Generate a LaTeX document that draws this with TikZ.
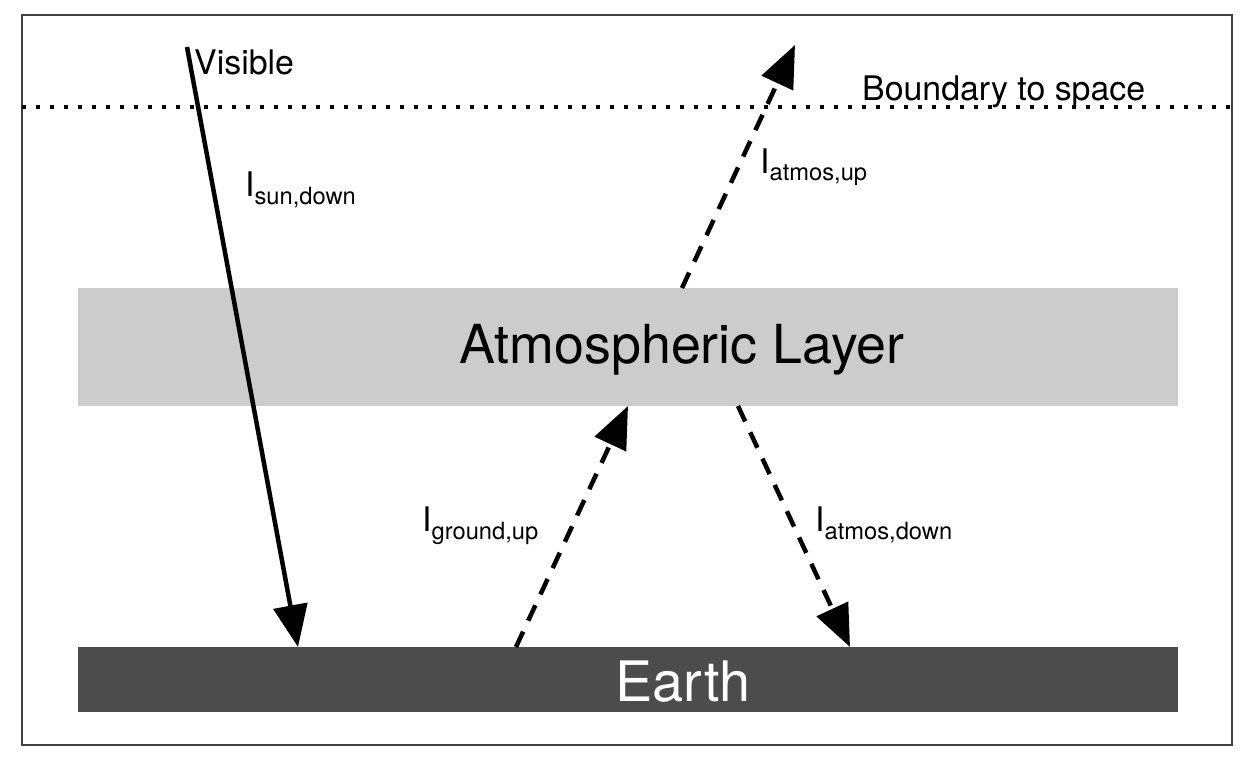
\documentclass[tikz,border=0pt]{standalone}
\usepackage{fontspec}
\setmainfont{TeX Gyre Heros}
\usetikzlibrary{arrows.meta}
\begin{document}
\begin{tikzpicture}[x=1bp,y=-1bp,
  ray/.style={line width=4.5bp,-{Triangle[length=42bp,width=34bp]}},
  dray/.style={ray,dash pattern=on 17bp off 12bp},
  lbl/.style={font=\fontsize{34}{38}\selectfont,inner sep=0pt}]
\useasboundingbox (0,0) rectangle (1248,768);
\fill[white] (0,0) rectangle (1248,768);
\draw[line width=1.2bp,black!75] (22,15) rectangle (1232,745);
\fill[black!20] (78,288) rectangle (1178,406);
\node[inner sep=0pt,font=\fontsize{54}{58}\selectfont] (atm) at (682,350) {Atmospheric Layer};
\fill[black!70] (78,647) rectangle (1178,712);
\node[inner sep=0pt,text=white,font=\fontsize{56}{60}\selectfont] (earth) at (683,682) {Earth};
\coordinate (bl) at (22,107); \coordinate (br) at (1232,107);
\draw[line width=4.5bp,dash pattern=on 4bp off 10bp] (bl) -- (br);
\node[lbl,anchor=base west] (bnd) at (862,101) {Boundary to space};
\coordinate (sunS) at (187,47); \coordinate (sunE) at (298,647);
\draw[ray] (sunS) -- (sunE);
\node[lbl,anchor=base west] (vis) at (194,75) {Visible};
\coordinate (auS) at (682,288); \coordinate (auE) at (795,45);
\draw[dray] (auS) -- (auE);
\coordinate (guS) at (516,647); \coordinate (guE) at (628,406);
\draw[dray] (guS) -- (guE);
\coordinate (adS) at (738,406); \coordinate (adE) at (850,647);
\draw[dray] (adS) -- (adE);
\node[lbl,anchor=base west] (l1) at (245,196) {I\textsubscript{sun,down}};
\node[lbl,anchor=base west] (l2) at (760,173) {I\textsubscript{atmos,up}};
\node[lbl,anchor=base west] (l3) at (422,531) {I\textsubscript{ground,up}};
\node[lbl,anchor=base west] (l4) at (815,531) {I\textsubscript{atmos,down}};
\end{tikzpicture}
\end{document}
